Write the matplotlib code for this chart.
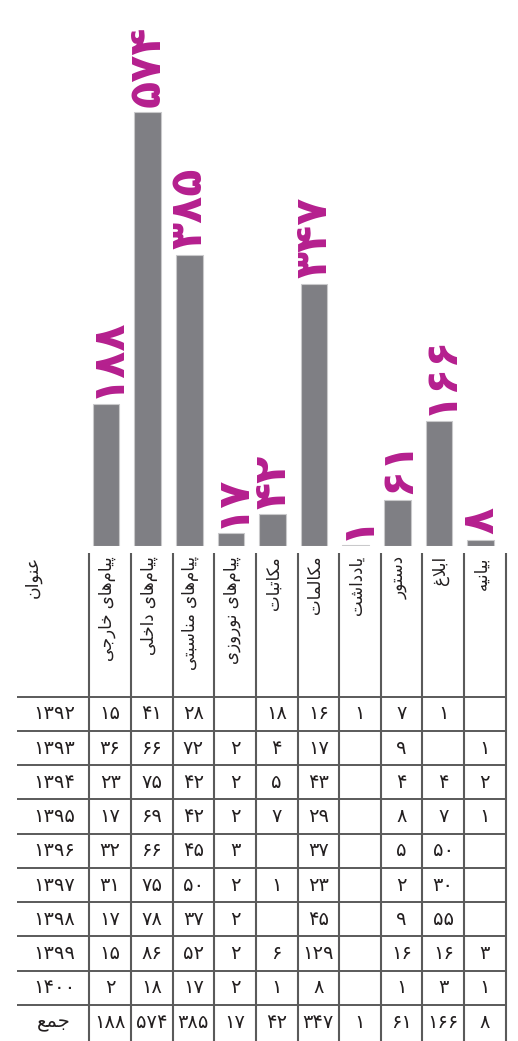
import numpy as np
import matplotlib
matplotlib.use("Agg")
import matplotlib.pyplot as plt

# ---------------- data ----------------
categories = ["پیام‌های خارجی", "پیام‌های داخلی", "پیام‌های مناسبتی", "پیام‌های نوروزی",
              "مکاتبات", "مکالمات", "یادداشت", "دستور", "ابلاغ", "بیانیه"]
totals = [188, 574, 385, 17, 42, 347, 1, 61, 166, 8]
years = [1392, 1393, 1394, 1395, 1396, 1397, 1398, 1399, 1400]
counts_1392 = [15, 41, 28, None, 18, 16, 1, 7, 1, None]
counts_1393 = [36, 66, 72, 2, 4, 17, None, 9, None, 1]
counts_1394 = [23, 75, 42, 2, 5, 43, None, 4, 4, 2]
counts_1395 = [17, 69, 42, 2, 7, 29, None, 8, 7, 1]
counts_1396 = [32, 66, 45, 3, None, 37, None, 5, 50, None]
counts_1397 = [31, 75, 50, 2, 1, 23, None, 2, 30, None]
counts_1398 = [17, 78, 37, 2, None, 45, None, 9, 55, None]
counts_1399 = [15, 86, 52, 2, 6, 129, None, 16, 16, 3]
counts_1400 = [2, 18, 17, 2, 1, 8, None, 1, 3, 1]
year_rows = [counts_1392, counts_1393, counts_1394, counts_1395, counts_1396,
             counts_1397, counts_1398, counts_1399, counts_1400]
header_title = "عنوان"
total_title = "جمع"

# ---------------- Persian shaping helpers ----------------
FORMS = {
    'ا': ('\uFE8D', '\uFE8E'), 'ب': ('\uFE8F', '\uFE90', '\uFE91', '\uFE92'),
    'پ': ('\uFB56', '\uFB57', '\uFB58', '\uFB59'), 'ت': ('\uFE95', '\uFE96', '\uFE97', '\uFE98'),
    'ج': ('\uFE9D', '\uFE9E', '\uFE9F', '\uFEA0'), 'خ': ('\uFEA5', '\uFEA6', '\uFEA7', '\uFEA8'),
    'د': ('\uFEA9', '\uFEAA'), 'ر': ('\uFEAD', '\uFEAE'), 'ز': ('\uFEAF', '\uFEB0'),
    'س': ('\uFEB1', '\uFEB2', '\uFEB3', '\uFEB4'), 'ش': ('\uFEB5', '\uFEB6', '\uFEB7', '\uFEB8'),
    'ع': ('\uFEC9', '\uFECA', '\uFECB', '\uFECC'), 'غ': ('\uFECD', '\uFECE', '\uFECF', '\uFED0'),
    'ک': ('\uFB8E', '\uFB8F', '\uFB90', '\uFB91'), 'ل': ('\uFEDD', '\uFEDE', '\uFEDF', '\uFEE0'),
    'م': ('\uFEE1', '\uFEE2', '\uFEE3', '\uFEE4'), 'ن': ('\uFEE5', '\uFEE6', '\uFEE7', '\uFEE8'),
    'ه': ('\uFEE9', '\uFEEA', '\uFEEB', '\uFEEC'), 'و': ('\uFEED', '\uFEEE'),
    'ی': ('\uFBFC', '\uFBFD', '\uFBFE', '\uFBFF'),
}


def shape(text):
    out = []
    n = len(text)
    i = 0
    while i < n:
        c = text[i]
        if c not in FORMS:
            if c != '\u200c':
                out.append(c)
            i += 1
            continue
        prev = text[i - 1] if i > 0 else None
        prev_join = prev in FORMS and len(FORMS[prev]) == 4
        if c == 'ل' and i + 1 < n and text[i + 1] == 'ا':
            out.append('\uFEFC' if prev_join else '\uFEFB')
            i += 2
            continue
        nxt = text[i + 1] if i + 1 < n else None
        next_join = len(FORMS[c]) == 4 and nxt in FORMS
        f = FORMS[c]
        if prev_join and next_join:
            g = f[3]
        elif prev_join:
            g = f[1]
        elif next_join:
            g = f[2]
        else:
            g = f[0]
        out.append(g)
        i += 1
    return ''.join(out[::-1])


FA_DIGITS = str.maketrans('0123456789', '۰۱۲۳۴۵۶۷۸۹')


def fa(num):
    return str(num).translate(FA_DIGITS)


# ---------------- figure ----------------
W, H = 518, 1041
fig = plt.figure(figsize=(W / 100, H / 100), dpi=100)
plt.rcParams['font.family'] = ['DejaVu Sans']

bar_color = '#7f7f84'
edge_color = '#c9c9cb'
label_color = '#b51f8e'
line_color = '#5a5a5a'
text_color = '#231f20'

col_left = 89.3
col_w = 41.64
n_cols = len(categories)
bar_base = 546
px_per_unit = 0.756

# bar axes (data coordinates)
ax = fig.add_axes([col_left / W, (H - bar_base) / H, col_w * n_cols / W, bar_base / H])
ax.set_xlim(-0.5, n_cols - 0.5)
ax.set_ylim(0, bar_base / px_per_unit)
ax.axis('off')
xpos = np.arange(n_cols) - 0.1
ax.bar(xpos, totals, width=0.64, color=bar_color, edgecolor=edge_color, linewidth=0.8)
for x, v in zip(xpos, totals):
    ax.annotate(fa(v), (x, v), xytext=(0, 4), textcoords='offset points',
                rotation=90, ha='center', va='bottom', color=label_color,
                fontsize=32, fontweight='bold')

# table overlay axes in pixel coordinates
tx = fig.add_axes([0, 0, 1, 1])
tx.set_xlim(0, W)
tx.set_ylim(H, 0)
tx.axis('off')

row_top = 696.7
row_h = 34.25
n_rows = len(years) + 1
col_edges = [col_left + col_w * j for j in range(n_cols + 1)]
for xe in col_edges:
    tx.plot([xe, xe], [553, H], color=line_color, lw=1.5, solid_capstyle='butt')
for r in range(n_rows):
    yl = row_top + r * row_h
    tx.plot([17, col_edges[-1]], [yl, yl], color=line_color, lw=1.4, solid_capstyle='butt')

# headers
tx.text(33, 556, shape(header_title), rotation=90, ha='center', va='top',
        fontsize=12.5, color=text_color)
for j, cat in enumerate(categories):
    cx = col_left + col_w * (j + 0.5) - 3
    tx.text(cx, 556, shape(cat), rotation=90, ha='center', va='top',
            fontsize=12, color=text_color)

# rows
year_x = 54
fs = 14
for r, (yr, row) in enumerate(zip(years, year_rows)):
    cy = row_top + (r + 0.5) * row_h
    tx.text(year_x, cy, fa(yr), ha='center', va='center', fontsize=fs, color=text_color)
    for j, v in enumerate(row):
        if v is None:
            continue
        cx = col_left + col_w * (j + 0.5)
        tx.text(cx, cy, fa(v), ha='center', va='center', fontsize=fs, color=text_color)

cy = row_top + (len(years) + 0.5) * row_h
tx.text(year_x, cy, shape(total_title), ha='center', va='center', fontsize=fs, color=text_color)
for j, v in enumerate(totals):
    cx = col_left + col_w * (j + 0.5)
    tx.text(cx, cy, fa(v), ha='center', va='center', fontsize=fs, color=text_color)

fig.savefig('out.png', dpi=100)
